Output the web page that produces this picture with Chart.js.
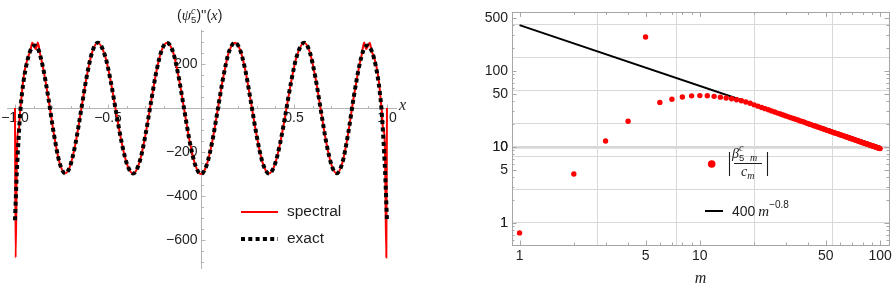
<!DOCTYPE html>
<html>
<head>
<meta charset="utf-8">
<script src="https://cdn.jsdelivr.net/npm/chart.js@4.4.1/dist/chart.umd.min.js"></script>
<style>
  html, body { margin: 0; padding: 0; background: #fff; }
  #wrap { position: relative; width: 896px; height: 292px; }
  #left { position: absolute; left: 0; top: 0; }
  #right { position: absolute; left: 450px; top: 0; }
</style>
</head>
<body>
<div id="wrap">
  <canvas id="left" width="430" height="292"></canvas>
  <canvas id="right" width="446" height="292"></canvas>
</div>
<script>
// ---- left panel: (psi_5^c)''(x) ----
const exactX = [-1.0, -0.99, -0.98, -0.97, -0.955, -0.94, -0.92, -0.895, -0.875, -0.85, -0.82, -0.79, -0.76, -0.73,
  -0.705, -0.675, -0.645, -0.615, -0.585, -0.555, -0.515, -0.485, -0.455, -0.425, -0.395, -0.365, -0.33, -0.30,
  -0.27, -0.24, -0.21, -0.183, -0.15, -0.12, -0.09, -0.06, -0.03,
  0, 0.03, 0.06, 0.09, 0.12, 0.15, 0.183, 0.21, 0.24, 0.27, 0.30, 0.33, 0.365, 0.395, 0.425, 0.455, 0.485, 0.515,
  0.555, 0.585, 0.615, 0.645, 0.675, 0.705, 0.73, 0.76, 0.79, 0.82, 0.85, 0.875, 0.895, 0.92, 0.94, 0.955, 0.97,
  0.98, 0.99, 1.0];
const exactY = [-510, -290, -130, 0, 115, 190, 255, 284, 266, 187, 42, -123, -250, -297,
  -267, -163, -13, 140, 254, 297, 235, 120, -25, -163, -262, -298, -245, -129,
  20, 165, 265, 297, 254, 141, -8, -155, -261,
  -300, -261, -155, -8, 141, 254, 297, 265, 165, 20, -129, -245, -298, -262, -163, -25, 120, 235,
  297, 254, 140, -13, -163, -267, -297, -250, -123, 42, 187, 266, 284, 255, 190, 115, 0,
  -130, -290, -510];

const spectralX = [-1.0, -0.9965, -0.99, -0.985, -0.98, -0.974, -0.966, -0.958, -0.95, -0.94, -0.93, -0.918, -0.907,
  -0.897, -0.888, -0.877, -0.865, -0.85, -0.82, -0.79, -0.76, -0.73,
  -0.705, -0.675, -0.645, -0.615, -0.585, -0.555, -0.515, -0.485, -0.455, -0.425, -0.395, -0.365, -0.33, -0.30,
  -0.27, -0.24, -0.21, -0.183, -0.15, -0.12, -0.09, -0.06, -0.03,
  0, 0.03, 0.06, 0.09, 0.12, 0.15, 0.183, 0.21, 0.24, 0.27, 0.30, 0.33, 0.365, 0.395, 0.425, 0.455, 0.485, 0.515,
  0.555, 0.585, 0.615, 0.645, 0.675, 0.705, 0.73, 0.76, 0.79, 0.82, 0.85, 0.865, 0.877, 0.888, 0.897, 0.907,
  0.918, 0.93, 0.94, 0.95, 0.958, 0.966, 0.974, 0.98, 0.985, 0.99, 0.9965, 1.0];
const spectralY = [0, -680, -240, -95, -110, -30, 40, 110, 160, 200, 232, 258, 296,
  280, 268, 298, 245, 187, 42, -123, -250, -297,
  -267, -163, -13, 140, 254, 297, 235, 120, -25, -163, -262, -298, -245, -129,
  20, 165, 265, 297, 254, 141, -8, -155, -261,
  -300, -261, -155, -8, 141, 254, 297, 265, 165, 20, -129, -245, -298, -262, -163, -25, 120, 235,
  297, 254, 140, -13, -163, -267, -297, -250, -123, 42, 187, 245, 298, 268, 280, 296,
  258, 232, 200, 160, 110, 40, -30, -110, -95, -240, -680, 0];

const xTickLabels = [-1, -0.5, 0.5, 1];
const xMinorTicks = [-1, -0.9, -0.8, -0.7, -0.6, -0.5, -0.4, -0.3, -0.2, -0.1, 0.1, 0.2, 0.3, 0.4, 0.5, 0.6, 0.7, 0.8, 0.9, 1];
const yTickLabels = [-600, -400, -200, 200];
const yMinorTicks = [-700, -650, -600, -550, -500, -450, -400, -350, -300, -250, -200, -150, -100, -50,
  50, 100, 150, 200, 250, 300, 350];

// ---- right panel: |beta_5m^c / c_m| vs m ----
const mValues = [1, 2, 3, 4, 5, 6, 7, 8, 9, 10, 11, 12, 13, 14, 15, 16, 17, 18, 19, 20,
  21, 22, 23, 24, 25, 26, 27, 28, 29, 30, 31, 32, 33, 34, 35, 36, 37, 38, 39, 40,
  41, 42, 43, 44, 45, 46, 47, 48, 49, 50, 51, 52, 53, 54, 55, 56, 57, 58, 59, 60,
  61, 62, 63, 64, 65, 66, 67, 68, 69, 70, 71, 72, 73, 74, 75, 76, 77, 78, 79, 80,
  81, 82, 83, 84, 85, 86, 87, 88, 89, 90, 91, 92, 93, 94, 95, 96, 97, 98, 99, 100];
const ratioValues = [0.74, 4.4, 12, 21.8, 280, 38.5, 42.5, 45.5, 47, 47.4, 47.2, 46.3, 45.2, 44.1, 43, 41.8, 40.5, 39.1, 37.6, 35.8,
  34.4, 33.1, 31.9, 30.8, 29.8, 28.8, 27.9, 27.1, 26.3, 25.6, 24.9, 24.3, 23.7, 23.1, 22.6, 22.0, 21.6, 21.1, 20.6, 20.2,
  19.8, 19.4, 19.0, 18.7, 18.3, 18.0, 17.7, 17.4, 17.1, 16.8, 16.5, 16.3, 16.0, 15.8, 15.5, 15.3, 15.1, 14.9, 14.7, 14.5,
  14.3, 14.1, 13.9, 13.7, 13.5, 13.4, 13.2, 13.05, 12.9, 12.75, 12.6, 12.45, 12.3, 12.2, 12.05, 11.9, 11.8, 11.65, 11.55, 11.4,
  11.3, 11.2, 11.1, 10.95, 10.85, 10.75, 10.65, 10.55, 10.45, 10.35, 10.3, 10.2, 10.1, 10.0, 9.93, 9.84, 9.76, 9.68, 9.6, 9.52];
const fitM = [1, 100];
const fitValues = [400, 10.05];

const mTickLabels = [1, 5, 10, 50, 100];
const mMinorTicks = [2, 3, 4, 6, 7, 8, 9, 20, 30, 40, 60, 70, 80, 90];
const mGridValues = [2.718, 7.389, 20.09, 54.6];
const vTickLabels = [1, 5, 10, 50, 100, 500];
const vMinorTicks = [0.6, 0.7, 0.8, 0.9, 2, 3, 4, 6, 7, 8, 9, 20, 30, 40, 60, 70, 80, 90, 200, 300, 400];
const vGridValues = [1, 2.718, 7.389, 10, 20.09, 54.6, 148.4, 403.4];

const SANS = '"Liberation Sans", Arial, sans-serif';
const SERIF = '"Liberation Serif", "Times New Roman", serif';
const TXT = '#1e1e1e';

const toPoints = (xs, ys) => xs.map((x, i) => ({ x: x, y: ys[i] }));

function drawRuns(ctx, x, y, runs) {
    runs.forEach(r => {
        ctx.font = r.font;
        ctx.fillText(r.text, x + (r.dx || 0), y + (r.dy || 0));
        if (!r.stack) x += ctx.measureText(r.text).width + (r.dx || 0);
    });
    return x;
}

const fmtX = v => (v < 0 ? '\u2212' : '') + Math.abs(v).toFixed(1);
const fmtY = v => (v < 0 ? '\u2212' : '') + Math.abs(v);

// axes through the origin, Mathematica style
const leftAxes = {
    id: 'leftAxes',
    beforeDatasetsDraw(chart) {
        const { ctx, chartArea: a, scales: { x, y } } = chart;
        const x0 = Math.round(x.getPixelForValue(0)) + 0.5;
        const y0 = Math.round(y.getPixelForValue(0)) + 0.5;
        ctx.save();
        ctx.strokeStyle = '#b4b4b4';
        ctx.lineWidth = 1;
        ctx.beginPath();
        ctx.moveTo(a.left, y0); ctx.lineTo(a.right, y0);
        ctx.moveTo(x0, a.top); ctx.lineTo(x0, a.bottom);
        xMinorTicks.forEach(v => {
            const px = Math.round(x.getPixelForValue(v)) + 0.5;
            const len = xTickLabels.includes(v) ? 4 : 2.5;
            ctx.moveTo(px, y0); ctx.lineTo(px, y0 - len);
        });
        yMinorTicks.forEach(v => {
            const py = Math.round(y.getPixelForValue(v)) + 0.5;
            const len = yTickLabels.includes(v) ? 4 : 2.5;
            ctx.moveTo(x0, py); ctx.lineTo(x0 + len, py);
        });
        ctx.stroke();

        ctx.fillStyle = TXT;
        ctx.font = '14px ' + SANS;
        ctx.textBaseline = 'middle';
        ctx.textAlign = 'center';
        xTickLabels.forEach(v => ctx.fillText(fmtX(v), x.getPixelForValue(v), y0 + 10));
        ctx.textAlign = 'right';
        yTickLabels.forEach(v => ctx.fillText(fmtY(v), x0 - 4, y.getPixelForValue(v)));

        // axis labels
        ctx.textAlign = 'left';
        ctx.font = 'italic 16px ' + SERIF;
        ctx.fillText('x', a.right + 2, y0 - 3);
        ctx.textBaseline = 'alphabetic';
        drawRuns(ctx, 177, 20, [
            { text: '(', font: '14px ' + SANS },
            { text: '\u03C8', font: 'italic 15px ' + SERIF },
            { text: '5', font: '9.5px ' + SANS, dy: 3, stack: true },
            { text: 'c', font: 'italic 10px ' + SERIF, dy: -6 },
            { text: ")''(", font: '14px ' + SANS, dx: 1 },
            { text: 'x', font: 'italic 15px ' + SERIF },
            { text: ')', font: '14px ' + SANS }
        ]);
        ctx.restore();
    }
};

const leftLegend = {
    id: 'leftLegend',
    afterDraw(chart) {
        const { ctx } = chart;
        ctx.save();
        ctx.lineWidth = 2;
        ctx.strokeStyle = '#ff0000';
        ctx.beginPath(); ctx.moveTo(241, 212); ctx.lineTo(278, 212); ctx.stroke();
        ctx.lineWidth = 4;
        ctx.strokeStyle = '#000';
        ctx.setLineDash([4, 3.3]);
        ctx.beginPath(); ctx.moveTo(241, 239); ctx.lineTo(278, 239); ctx.stroke();
        ctx.setLineDash([]);
        ctx.fillStyle = TXT;
        ctx.font = '15.5px ' + SANS;
        ctx.textBaseline = 'middle';
        ctx.textAlign = 'left';
        ctx.fillText('spectral', 287, 212);
        ctx.fillText('exact', 287, 239);
        ctx.restore();
    }
};

new Chart(document.getElementById('left'), {
    type: 'line',
    data: {
        datasets: [{
            label: 'exact',
            data: toPoints(exactX, exactY),
            borderColor: '#000',
            borderWidth: 4,
            borderDash: [4, 3.3],
            borderCapStyle: 'butt',
            pointRadius: 0,
            cubicInterpolationMode: 'monotone',
            fill: false
        }, {
            label: 'spectral',
            data: toPoints(spectralX, spectralY),
            borderColor: '#ff0000',
            borderWidth: 2,
            pointRadius: 0,
            cubicInterpolationMode: 'monotone',
            fill: false
        }]
    },
    options: {
        responsive: false,
        animation: false,
        devicePixelRatio: 1,
        layout: { padding: { left: 7, right: 33, top: 30, bottom: 23 } },
        scales: {
            x: { type: 'linear', min: -1.043, max: 1.054, display: false },
            y: { type: 'linear', min: -731.8, max: 354.5, display: false }
        },
        plugins: { legend: { display: false }, tooltip: { enabled: false } }
    },
    plugins: [leftAxes, leftLegend]
});

// frame with inward ticks on all four sides
const rightFrame = {
    id: 'rightFrame',
    beforeDatasetsDraw(chart) {
        const { ctx, chartArea: a, scales: { x, y } } = chart;
        ctx.save();
        ctx.strokeStyle = '#a6a6a6';
        ctx.lineWidth = 1;
        ctx.strokeRect(Math.round(a.left) + 0.5, Math.round(a.top) + 0.5,
            Math.round(a.right - a.left), Math.round(a.bottom - a.top));
        ctx.beginPath();
        mTickLabels.concat(mMinorTicks).forEach(v => {
            const px = Math.round(x.getPixelForValue(v)) + 0.5;
            const len = mTickLabels.includes(v) ? 4.5 : 2.5;
            ctx.moveTo(px, a.bottom); ctx.lineTo(px, a.bottom - len);
            ctx.moveTo(px, a.top); ctx.lineTo(px, a.top + len);
        });
        vTickLabels.concat(vMinorTicks).forEach(v => {
            const py = Math.round(y.getPixelForValue(v)) + 0.5;
            const len = vTickLabels.includes(v) ? 4.5 : 2.5;
            ctx.moveTo(a.left, py); ctx.lineTo(a.left + len, py);
            ctx.moveTo(a.right, py); ctx.lineTo(a.right - len, py);
        });
        ctx.stroke();
        ctx.restore();
    }
};

const rightLegend = {
    id: 'rightLegend',
    afterDraw(chart) {
        const { ctx } = chart;
        ctx.save();
        ctx.fillStyle = '#ff0000';
        ctx.beginPath(); ctx.arc(261.7, 164, 3.8, 0, Math.PI * 2); ctx.fill();

        ctx.strokeStyle = TXT;
        ctx.lineWidth = 1.1;
        ctx.beginPath();
        ctx.moveTo(279.5, 152); ctx.lineTo(279.5, 176);
        ctx.moveTo(317.5, 152); ctx.lineTo(317.5, 176);
        ctx.moveTo(284, 163.5); ctx.lineTo(312, 163.5);
        ctx.stroke();

        ctx.fillStyle = TXT;
        ctx.textAlign = 'left';
        ctx.textBaseline = 'alphabetic';
        drawRuns(ctx, 282, 158, [
            { text: '\u03B2', font: 'italic 14px ' + SERIF },
            { text: '5', font: '9.5px ' + SANS, dy: 3, stack: true },
            { text: 'c', font: 'italic 10px ' + SERIF, dy: -7 }
        ]);
        ctx.font = 'italic 10px ' + SERIF;
        ctx.fillText('m', 300, 161);
        drawRuns(ctx, 291, 176, [
            { text: 'c', font: 'italic 14px ' + SERIF },
            { text: 'm', font: 'italic 10px ' + SERIF, dy: 3 }
        ]);

        ctx.strokeStyle = '#000';
        ctx.lineWidth = 2;
        ctx.beginPath(); ctx.moveTo(255, 211); ctx.lineTo(273, 211); ctx.stroke();
        ctx.fillStyle = TXT;
        drawRuns(ctx, 282, 216, [
            { text: '400', font: '14px ' + SANS },
            { text: 'm', font: 'italic 15px ' + SERIF, dx: 3 },
            { text: '\u22120.8', font: '10px ' + SANS, dy: -8 }
        ]);
        ctx.restore();
    }
};

const gridColor = list => c => (c.tick && list.includes(c.tick.value)) ? '#d9d9d9' : 'rgba(0,0,0,0)';

new Chart(document.getElementById('right'), {
    type: 'scatter',
    data: {
        datasets: [{
            label: 'ratio',
            data: toPoints(mValues, ratioValues),
            backgroundColor: '#ff0000',
            borderWidth: 0,
            pointRadius: 2.7,
            showLine: false
        }, {
            label: 'fit',
            data: toPoints(fitM, fitValues),
            borderColor: '#000',
            borderWidth: 2,
            pointRadius: 0,
            showLine: true
        }]
    },
    options: {
        responsive: false,
        animation: false,
        devicePixelRatio: 1,
        layout: { padding: { left: 0, right: 7, top: 10, bottom: 0 } },
        scales: {
            x: {
                type: 'logarithmic',
                min: 0.908,
                max: 112,
                afterBuildTicks: s => { s.ticks = mTickLabels.concat(mMinorTicks, mGridValues).sort((p, q) => p - q).map(v => ({ value: v })); },
                afterFit: s => { s.height = 47; },
                border: { display: false },
                grid: { drawTicks: false, color: gridColor(mGridValues) },
                ticks: {
                    autoSkip: false, maxRotation: 0, padding: 3, color: TXT,
                    font: { family: SANS, size: 14 },
                    callback: v => mTickLabels.includes(v) ? String(v) : ''
                },
                title: {
                    display: true, text: 'm', color: TXT,
                    font: { family: SERIF, style: 'italic', size: 16 },
                    padding: { top: 4, bottom: 4 }
                }
            },
            y: {
                type: 'logarithmic',
                min: 0.513,
                max: 589,
                afterBuildTicks: s => { s.ticks = vTickLabels.concat(vMinorTicks, vGridValues).sort((p, q) => p - q).map(v => ({ value: v })); },
                afterFit: s => { s.width = 62; },
                border: { display: false },
                grid: {
                    drawTicks: false,
                    color: c => (c.tick && c.tick.value === 10) ? '#d8d8d8' : gridColor(vGridValues)(c),
                    lineWidth: c => (c.tick && c.tick.value === 10) ? 2.5 : 1
                },
                ticks: {
                    autoSkip: false, padding: 4, color: TXT,
                    font: { family: SANS, size: 14 },
                    callback: v => vTickLabels.includes(v) ? String(v) : ''
                }
            }
        },
        plugins: { legend: { display: false }, tooltip: { enabled: false } }
    },
    plugins: [rightFrame, rightLegend]
});
</script>
</body>
</html>
